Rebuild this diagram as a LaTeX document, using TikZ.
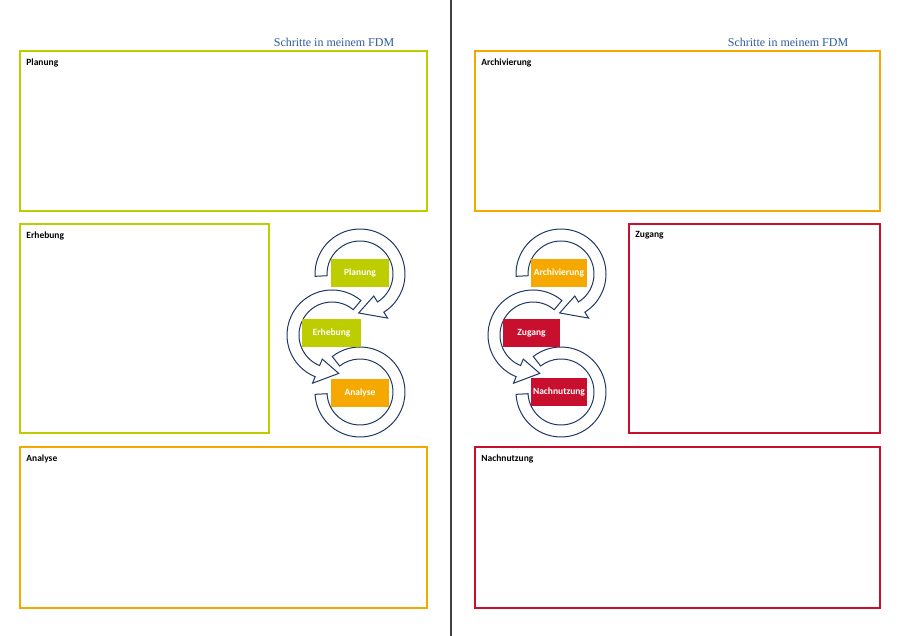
\documentclass[tikz,border=0pt]{standalone}
\usepackage{fontspec}
\setmainfont{Carlito}
\newfontfamily\titlefont{Liberation Serif}
\usetikzlibrary{positioning}
\definecolor{fdm-green}{RGB}{190,205,0}
\definecolor{fdm-orange}{RGB}{245,168,0}
\definecolor{fdm-red}{RGB}{200,16,46}
\definecolor{fdm-navy}{RGB}{31,56,100}
\definecolor{fdm-blue}{RGB}{46,90,156}
\definecolor{fdm-gray}{RGB}{64,64,64}

% circular arrow: start angle, end angle, tip angle
\newcommand{\ringarrow}[3]{%
  \draw[ring] (#1:45) arc[start angle=#1, end angle=#2, radius=45pt] -- (#2:52) -- (#3:39) -- (#2:26) -- (#2:33) arc[start angle=#2, end angle=#1, radius=33pt] -- cycle;}
% circular band without head
\newcommand{\ringplain}[2]{%
  \draw[ring] (#1:45) arc[start angle=#1, end angle=#2, radius=45pt] -- (#2:33) arc[start angle=#2, end angle=#1, radius=33pt] -- cycle;}

\begin{document}
\begin{tikzpicture}[x=1pt, y=1pt,
    frame/.style={rectangle, draw, line width=1.6pt, inner sep=0pt},
    lbl/.style={inner sep=2pt, font=\fontsize{9.5}{11}\selectfont\bfseries},
    stepbox/.style={rectangle, inner sep=0pt, minimum height=28pt, text=white, font=\fontsize{9.5}{11}\selectfont\bfseries},
    ring/.style={draw=fdm-navy, fill=white, line width=1pt},
    heading/.style={text=fdm-blue, font=\titlefont\fontsize{12}{14}\selectfont}]

    \useasboundingbox (0,0) rectangle (902,636);

    % Page divider
    \draw[fdm-gray, line width=1.6pt] (451,0) -- (451,636);

    % Headings
    \node[heading] (titleL) at (334,594) {Schritte in meinem FDM};
    \node[heading] (titleR) at (788,594) {Schritte in meinem FDM};

    % Frames - left page
    \node[frame, draw=fdm-green, minimum width=407pt, minimum height=160pt] (plan) at (223.5,505) {};
    \node[frame, draw=fdm-green, minimum width=249pt, minimum height=209pt] (erh) at (144.5,307.5) {};
    \node[frame, draw=fdm-orange, minimum width=407pt, minimum height=161pt] (ana) at (223.5,108.5) {};
    % Frames - right page
    \node[frame, draw=fdm-orange, minimum width=405pt, minimum height=160pt] (arch) at (677.5,505) {};
    \node[frame, draw=fdm-red, minimum width=251pt, minimum height=209pt] (zug) at (754.5,307.5) {};
    \node[frame, draw=fdm-red, minimum width=405pt, minimum height=161pt] (nach) at (677.5,108.5) {};

    % Frame labels
    \node[lbl, below right=6pt and 5pt of plan.north west] (planlbl) {Planung};
    \node[lbl, below right=6pt and 5pt of erh.north west] (erhlbl) {Erhebung};
    \node[lbl, below right=6pt and 5pt of ana.north west] (analbl) {Analyse};
    \node[lbl, below right=6pt and 5pt of arch.north west] (archlbl) {Archivierung};
    \node[lbl, below right=6pt and 5pt of zug.north west] (zuglbl) {Zugang};
    \node[lbl, below right=6pt and 5pt of nach.north west] (nachlbl) {Nachnutzung};

    % Cycle - left page
    \begin{scope}[shift={(360,244)}] \ringplain{128}{-177} \end{scope}
    \begin{scope}[shift={(332,301)}] \ringarrow{50}{248}{280} \end{scope}
    \begin{scope}[shift={(360,362)}] \ringarrow{183}{-58}{-92} \end{scope}
    \node[stepbox, fill=fdm-green, minimum width=58pt] (cplan) at (360,363) {Planung};
    \node[stepbox, fill=fdm-green, minimum width=59pt] (cerh) at (331.5,303) {Erhebung};
    \node[stepbox, fill=fdm-orange, minimum width=58pt] (cana) at (360,243) {Analyse};

    % Cycle - right page
    \begin{scope}[shift={(561,244)}] \ringplain{128}{-177} \end{scope}
    \begin{scope}[shift={(533,301)}] \ringarrow{50}{248}{280} \end{scope}
    \begin{scope}[shift={(561,362)}] \ringarrow{183}{-58}{-92} \end{scope}
    \node[stepbox, fill=fdm-orange, minimum width=56pt] (carch) at (559,363) {Archivierung};
    \node[stepbox, fill=fdm-red, minimum width=57pt] (czug) at (531.5,303) {Zugang};
    \node[stepbox, fill=fdm-red, minimum width=56pt] (cnach) at (559,244) {Nachnutzung};
\end{tikzpicture}
\end{document}
